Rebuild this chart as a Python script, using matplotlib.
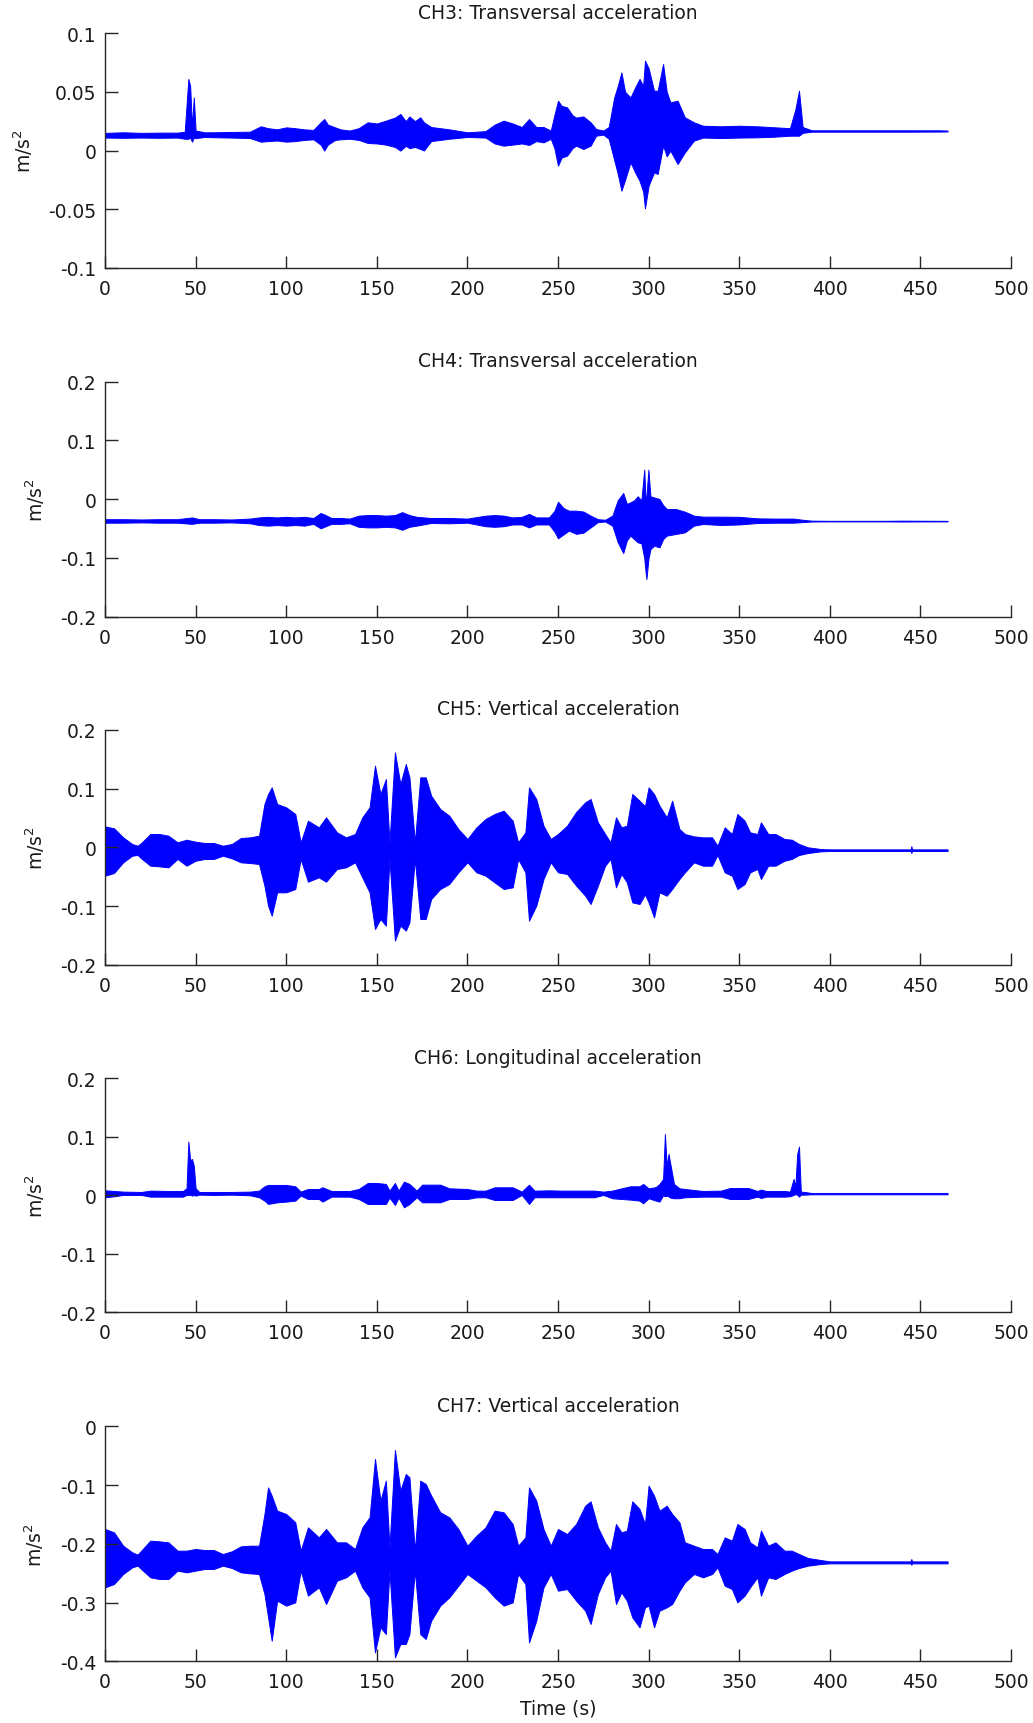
import numpy as np
import matplotlib
matplotlib.use("Agg")
import matplotlib.pyplot as plt

# ---- Envelope of each acceleration record: time (s), upper and lower bound (m/s^2) ----
ch3_t = [0, 10, 20, 30, 40, 44, 46, 47, 48, 49, 50, 55, 60, 70, 80, 86, 90, 95, 100, 105,
         110, 115, 119, 121, 123, 127, 130, 135, 140, 145, 150, 155, 160, 163, 166, 168, 171,
         174, 176, 180, 190, 200, 210, 215, 220, 225, 230, 234, 238, 242, 246, 248, 250, 252,
         255, 258, 260, 264, 268, 271, 275, 278, 281, 283, 285, 287, 290, 293, 295, 297, 298,
         300, 303, 305, 308, 310, 312, 316, 320, 325, 330, 340, 350, 360, 370, 378, 381, 383,
         385, 390, 400, 430, 440, 460, 465]
ch3_hi = [0.0150, 0.0155, 0.0150, 0.0152, 0.0152, 0.0160, 0.0609, 0.0550, 0.0200, 0.0452,
          0.0170, 0.0155, 0.0155, 0.0158, 0.0160, 0.0206, 0.0190, 0.0180, 0.0197, 0.0190,
          0.0180, 0.0175, 0.0240, 0.0268, 0.0220, 0.0197, 0.0180, 0.0170, 0.0190, 0.0240,
          0.0230, 0.0254, 0.0280, 0.0311, 0.0250, 0.0290, 0.0250, 0.0282, 0.0240, 0.0200,
          0.0180, 0.0155, 0.0165, 0.0220, 0.0254, 0.0230, 0.0200, 0.0268, 0.0200, 0.0200,
          0.0170, 0.0300, 0.0424, 0.0380, 0.0367, 0.0300, 0.0280, 0.0290, 0.0240, 0.0183,
          0.0170, 0.0200, 0.0450, 0.0550, 0.0665, 0.0500, 0.0452, 0.0550, 0.0609, 0.0550,
          0.0765, 0.0700, 0.0509, 0.0509, 0.0736, 0.0500, 0.0410, 0.0424, 0.0282, 0.0240,
          0.0211, 0.0206, 0.0211, 0.0206, 0.0197, 0.0190, 0.0350, 0.0509, 0.0200, 0.0172,
          0.0172, 0.0172, 0.0172, 0.0172, 0.0170]
ch3_lo = [0.0110, 0.0108, 0.0110, 0.0108, 0.0110, 0.0100, 0.0100, 0.0110, 0.0075, 0.0110,
          0.0105, 0.0115, 0.0113, 0.0110, 0.0106, 0.0075, 0.0080, 0.0085, 0.0075, 0.0080,
          0.0090, 0.0095, 0.0050, -0.0001, 0.0050, 0.0090, 0.0095, 0.0100, 0.0090, 0.0064,
          0.0060, 0.0050, 0.0030, -0.0001, 0.0040, 0.0020, 0.0030, 0.0013, 0.0000, 0.0080,
          0.0100, 0.0115, 0.0110, 0.0060, 0.0041, 0.0050, 0.0060, 0.0047, 0.0080, 0.0069,
          0.0100, 0.0020, -0.0129, -0.0060, -0.0044, 0.0020, 0.0041, 0.0013, 0.0041, 0.0126,
          0.0135, 0.0100, -0.0080, -0.0200, -0.0342, -0.0250, -0.0101, -0.0200, -0.0257,
          -0.0350, -0.0492, -0.0300, -0.0186, -0.0200, 0.0041, -0.0050, -0.0001, -0.0115,
          -0.0016, 0.0084, 0.0110, 0.0106, 0.0110, 0.0112, 0.0118, 0.0126, 0.0126, 0.0126,
          0.0150, 0.0160, 0.0160, 0.0160, 0.0160, 0.0161, 0.0162]

ch4_t = [0, 10, 20, 30, 40, 48, 52, 60, 70, 80, 85, 90, 95, 100, 105, 110, 115, 119, 121,
         125, 130, 135, 140, 145, 150, 155, 160, 164, 168, 172, 180, 190, 200, 210, 215, 220,
         225, 230, 234, 238, 245, 248, 250, 253, 256, 260, 264, 268, 272, 276, 280, 283, 286,
         288, 290, 292, 294, 296, 297.6, 298.2, 298.8, 299.9, 301, 303, 306, 308, 310, 315,
         320, 325, 330, 340, 350, 360, 370, 380, 385, 390, 400, 430, 440, 460, 465]
ch4_hi = [-0.034, -0.034, -0.0345, -0.034, -0.034, -0.031, -0.034, -0.034, -0.0345, -0.033,
          -0.031, -0.030, -0.031, -0.030, -0.031, -0.030, -0.032, -0.0235, -0.026, -0.032,
          -0.032, -0.033, -0.028, -0.027, -0.027, -0.028, -0.027, -0.022, -0.027, -0.030,
          -0.032, -0.032, -0.033, -0.028, -0.027, -0.028, -0.031, -0.030, -0.025, -0.031,
          -0.031, -0.020, -0.0042, -0.015, -0.0195, -0.0195, -0.021, -0.028, -0.034, -0.035,
          -0.028, -0.0017, 0.0106, -0.008, -0.0053, -0.002, 0.005, -0.002, 0.0503, 0.005,
          0.005, 0.0503, 0.005, 0.003, 0.0003, -0.010, -0.0167, -0.0167, -0.0212, -0.028,
          -0.0297, -0.0297, -0.030, -0.0326, -0.033, -0.033, -0.035, -0.0365, -0.0368,
          -0.0368, -0.0365, -0.0368, -0.0368]
ch4_lo = [-0.040, -0.040, -0.0395, -0.040, -0.040, -0.042, -0.040, -0.040, -0.0395, -0.041,
          -0.044, -0.045, -0.044, -0.045, -0.044, -0.045, -0.042, -0.0496, -0.047, -0.042,
          -0.042, -0.041, -0.047, -0.048, -0.048, -0.047, -0.048, -0.052, -0.047, -0.045,
          -0.0405, -0.041, -0.040, -0.046, -0.047, -0.046, -0.043, -0.043, -0.048, -0.043,
          -0.043, -0.055, -0.0666, -0.060, -0.0535, -0.059, -0.057, -0.048, -0.039, -0.038,
          -0.045, -0.0734, -0.0916, -0.070, -0.062, -0.068, -0.0734, -0.075, -0.100, -0.120,
          -0.1358, -0.1018, -0.085, -0.0791, -0.0819, -0.068, -0.062, -0.0592, -0.0564,
          -0.045, -0.0422, -0.0439, -0.043, -0.0405, -0.040, -0.040, -0.039, -0.038, -0.0378,
          -0.0378, -0.038, -0.0378, -0.0378]

ch5_t = [0, 5, 10, 15, 18, 20, 25, 30, 35, 40, 45, 50, 55, 60, 65, 70, 75, 80, 85, 88, 90,
         92, 95, 100, 105, 108, 112, 118, 122, 128, 133, 138, 142, 146, 149, 152, 155, 157,
         160, 163, 166, 168, 171, 174, 177, 180, 185, 190, 195, 200, 205, 210, 215, 220, 225,
         228, 232, 234, 238, 242, 246, 250, 255, 260, 265, 268, 272, 276, 279, 282, 285, 288,
         291, 295, 298, 300, 303, 306, 310, 313, 317, 320, 325, 330, 335, 338, 342, 346, 349,
         353, 356, 360, 362, 366, 370, 375, 379, 383, 388, 395, 400, 444.6, 445, 445.4, 465]
ch5_hi = [0.0357, 0.0323, 0.017, 0.0057, 0.0028, 0.0074, 0.0227, 0.0227, 0.0198, 0.0085,
          0.013, 0.0096, 0.0074, 0.0074, 0.0028, 0.0057, 0.0159, 0.017, 0.0198, 0.0737,
          0.0907, 0.102, 0.0737, 0.068, 0.0567, 0.0085, 0.0453, 0.034, 0.051, 0.0255, 0.017,
          0.0227, 0.051, 0.068, 0.1388, 0.0907, 0.1161, 0.0085, 0.1615, 0.1076, 0.1416,
          0.119, 0.0085, 0.119, 0.119, 0.0878, 0.0652, 0.0538, 0.0312, 0.0142, 0.034, 0.0482,
          0.0567, 0.0623, 0.0453, 0.0085, 0.0255, 0.102, 0.0822, 0.0368, 0.0142, 0.0227,
          0.0368, 0.060, 0.0765, 0.0822, 0.0425, 0.0227, 0.0085, 0.051, 0.034, 0.0368,
          0.0907, 0.0793, 0.070, 0.102, 0.0907, 0.0708, 0.051, 0.0793, 0.0312, 0.0227,
          0.0187, 0.017, 0.017, 0.0028, 0.034, 0.0227, 0.0567, 0.0453, 0.0255, 0.0227,
          0.0425, 0.0227, 0.0227, 0.0142, 0.013, 0.0057, 0.0, -0.0028, -0.0034, -0.0034,
          0.002, -0.0034, -0.0034]
ch5_lo = [-0.0482, -0.0436, -0.0255, -0.0142, -0.013, -0.0187, -0.0312, -0.0323, -0.034,
          -0.0198, -0.0312, -0.0227, -0.0198, -0.0198, -0.0142, -0.0187, -0.0255, -0.0266,
          -0.0283, -0.0652, -0.0992, -0.1161, -0.0765, -0.0765, -0.0708, -0.0198, -0.0584,
          -0.051, -0.0584, -0.0368, -0.034, -0.0255, -0.051, -0.0765, -0.1388, -0.1218,
          -0.1331, -0.0198, -0.1586, -0.1331, -0.1416, -0.1275, -0.0198, -0.1218, -0.1218,
          -0.0878, -0.0708, -0.0623, -0.0425, -0.0255, -0.0425, -0.0482, -0.0595, -0.0708,
          -0.068, -0.0198, -0.0425, -0.1246, -0.0992, -0.0538, -0.0255, -0.0425, -0.0453,
          -0.065, -0.0822, -0.0963, -0.0652, -0.0312, -0.0198, -0.068, -0.0453, -0.0595,
          -0.0935, -0.0963, -0.080, -0.0935, -0.119, -0.0765, -0.0822, -0.0708, -0.0538,
          -0.0425, -0.0255, -0.0312, -0.0312, -0.013, -0.0425, -0.0482, -0.0708, -0.0623,
          -0.0425, -0.0368, -0.0538, -0.0312, -0.0312, -0.0227, -0.0198, -0.013, -0.0096,
          -0.0068, -0.0062, -0.0062, -0.0096, -0.0062, -0.0062]

ch6_t = [0, 5, 10, 20, 25, 35, 43, 45, 46, 47, 48, 49, 50, 52, 60, 70, 80, 85, 88, 90, 95,
         100, 105, 108, 112, 118, 120, 125, 135, 140, 145, 150, 155, 157, 160, 162, 165, 168,
         172, 175, 180, 185, 190, 200, 205, 210, 215, 220, 225, 230, 234, 237, 245, 252, 260,
         270, 275, 280, 285, 290, 295, 297, 300, 304, 306, 308, 309, 310, 311, 312, 314, 317,
         320, 330, 340, 345, 350, 355, 360, 362, 365, 375, 378, 380, 381, 382, 383, 384, 386,
         390, 400, 465]
ch6_hi = [0.0085, 0.0074, 0.0063, 0.0057, 0.008, 0.0074, 0.0074, 0.012, 0.0917, 0.060,
          0.0621, 0.0507, 0.012, 0.0057, 0.0057, 0.0057, 0.0063, 0.008, 0.0154, 0.0177,
          0.0177, 0.0177, 0.0154, 0.0063, 0.0108, 0.0108, 0.0137, 0.0074, 0.0074, 0.0108,
          0.0211, 0.0211, 0.0194, 0.008, 0.0211, 0.008, 0.0234, 0.0194, 0.008, 0.0182,
          0.0182, 0.0182, 0.0119, 0.0108, 0.008, 0.008, 0.0137, 0.0137, 0.0137, 0.0063,
          0.0182, 0.008, 0.0085, 0.008, 0.008, 0.008, 0.0063, 0.008, 0.0119, 0.0154, 0.0154,
          0.0194, 0.0119, 0.014, 0.0194, 0.0279, 0.1048, 0.050, 0.0707, 0.0536, 0.0194,
          0.012, 0.0108, 0.0074, 0.008, 0.0125, 0.0125, 0.0125, 0.0074, 0.0097, 0.0074,
          0.0074, 0.0063, 0.0279, 0.015, 0.0707, 0.0832, 0.0063, 0.0057, 0.004, 0.004, 0.004]
ch6_lo = [-0.0034, -0.0017, 0.0006, 0.0006, -0.0023, -0.0023, -0.0023, 0.0006, 0.0006, 0.001,
          -0.0006, 0.0006, -0.0006, 0.0011, 0.0006, 0.0011, 0.0, -0.0034, -0.0091, -0.0148,
          -0.012, -0.0108, -0.0091, -0.0006, -0.0063, -0.0063, -0.0108, -0.0023, -0.0023,
          -0.0063, -0.0148, -0.0148, -0.0148, -0.004, -0.0165, -0.004, -0.0205, -0.0148,
          -0.0034, -0.012, -0.012, -0.012, -0.0063, -0.0063, -0.0034, -0.0034, -0.008, -0.008,
          -0.008, 0.0006, -0.0148, -0.0034, -0.0034, -0.0034, -0.0034, -0.0034, 0.0006,
          -0.0051, -0.0063, -0.0074, -0.0091, -0.0137, -0.0051, -0.0091, -0.0108, 0.0,
          -0.0017, -0.0006, -0.002, -0.004, -0.0051, -0.005, -0.0034, -0.0023, -0.0023,
          -0.0063, -0.0063, -0.0063, -0.0023, -0.0046, -0.0023, -0.0023, -0.0017, 0.0006,
          0.002, 0.001, -0.0023, 0.001, 0.0011, 0.0017, 0.0017, 0.0017]

ch7_t = ch5_t
ch7_hi = [-0.1748, -0.1805, -0.2032, -0.2145, -0.2185, -0.2117, -0.1947, -0.1958, -0.1975,
          -0.2117, -0.2117, -0.2088, -0.2106, -0.2106, -0.2174, -0.2128, -0.2043, -0.2032,
          -0.2032, -0.1493, -0.1039, -0.118, -0.1436, -0.1493, -0.1634, -0.2117, -0.172,
          -0.189, -0.1748, -0.1975, -0.1975, -0.2088, -0.172, -0.1549, -0.0556, -0.1266,
          -0.0925, -0.206, -0.0403, -0.1095, -0.0812, -0.0868, -0.2117, -0.0925, -0.0982,
          -0.118, -0.1464, -0.1549, -0.1748, -0.2032, -0.1862, -0.172, -0.1436, -0.1464,
          -0.1663, -0.2032, -0.189, -0.1039, -0.1266, -0.1748, -0.2032, -0.1748, -0.1833,
          -0.1663, -0.1351, -0.1277, -0.172, -0.1975, -0.2117, -0.1663, -0.1805, -0.1776,
          -0.1277, -0.1408, -0.1663, -0.101, -0.118, -0.1436, -0.1351, -0.1493, -0.1634,
          -0.1975, -0.2032, -0.2088, -0.2088, -0.2174, -0.189, -0.1947, -0.1663, -0.1748,
          -0.1975, -0.206, -0.1776, -0.2032, -0.1975, -0.2117, -0.2117, -0.2174, -0.2242,
          -0.2276, -0.2299, -0.2299, -0.2259, -0.2299, -0.2299]
ch7_lo = [-0.2741, -0.2684, -0.2514, -0.2401, -0.2372, -0.2429, -0.2571, -0.2599, -0.2599,
          -0.2457, -0.2486, -0.2457, -0.2429, -0.2429, -0.2372, -0.2412, -0.2486, -0.2503,
          -0.2514, -0.2855, -0.3252, -0.3649, -0.2968, -0.3053, -0.2997, -0.2457, -0.2883,
          -0.2741, -0.3025, -0.2628, -0.2571, -0.2457, -0.2741, -0.2911, -0.3848, -0.3422,
          -0.3536, -0.2457, -0.3933, -0.3706, -0.3706, -0.3536, -0.2457, -0.3536, -0.3621,
          -0.3309, -0.3053, -0.2911, -0.2713, -0.2514, -0.2628, -0.2741, -0.2911, -0.3053,
          -0.2997, -0.2514, -0.2684, -0.3678, -0.3309, -0.2741, -0.2514, -0.2798, -0.277,
          -0.2968, -0.3138, -0.3365, -0.2855, -0.2571, -0.2457, -0.3025, -0.2826, -0.2968,
          -0.3252, -0.3422, -0.3082, -0.3053, -0.3422, -0.3138, -0.3082, -0.3025, -0.2798,
          -0.2656, -0.2514, -0.2571, -0.2514, -0.2401, -0.2713, -0.277, -0.2997, -0.2883,
          -0.2741, -0.2571, -0.2883, -0.2571, -0.2599, -0.2514, -0.2457, -0.2412, -0.2372,
          -0.2344, -0.2333, -0.2333, -0.2355, -0.2333, -0.2333]

titles = ["CH3: Transversal acceleration", "CH4: Transversal acceleration",
          "CH5: Vertical acceleration", "CH6: Longitudinal acceleration",
          "CH7: Vertical acceleration"]
ylims = [(-0.1, 0.1), (-0.2, 0.2), (-0.2, 0.2), (-0.2, 0.2), (-0.4, 0.0)]
yticks = [[-0.1, -0.05, 0, 0.05, 0.1],
          [-0.2, -0.1, 0, 0.1, 0.2],
          [-0.2, -0.1, 0, 0.1, 0.2],
          [-0.2, -0.1, 0, 0.1, 0.2],
          [-0.4, -0.3, -0.2, -0.1, 0]]
ytick_labels = [["-0.1", "-0.05", "0", "0.05", "0.1"],
                ["-0.2", "-0.1", "0", "0.1", "0.2"],
                ["-0.2", "-0.1", "0", "0.1", "0.2"],
                ["-0.2", "-0.1", "0", "0.1", "0.2"],
                ["-0.4", "-0.3", "-0.2", "-0.1", "0"]]
xticks = list(range(0, 501, 50))

series = [(ch3_t, ch3_hi, ch3_lo), (ch4_t, ch4_hi, ch4_lo), (ch5_t, ch5_hi, ch5_lo),
          (ch6_t, ch6_hi, ch6_lo), (ch7_t, ch7_hi, ch7_lo)]

plt.rcParams["font.family"] = ["DejaVu Sans"]
W, H = 1033, 1724
fig = plt.figure(figsize=(W / 100, H / 100), dpi=100)

# axes boxes in pixels: (top, bottom)
boxes = [(34, 269), (382.7, 617.7), (730.7, 966), (1079.3, 1313.3), (1427.3, 1662.3)]
left_px, right_px = 105, 1011
axis_col = "#262626"
txt_col = "#1a1a1a"
fs = 13.5

for i, ((top, bot), (t, hi, lo)) in enumerate(zip(boxes, series)):
    ax = fig.add_axes([left_px / W, 1 - bot / H, (right_px - left_px) / W, (bot - top) / H])
    ax.fill_between(t, lo, hi, color="#0000ff", linewidth=0.7, edgecolor="#0000ff")
    ax.set_xlim(0, 500)
    ax.set_ylim(*ylims[i])
    ax.set_xticks(xticks)
    ax.set_xticklabels([str(v) for v in xticks])
    ax.set_yticks(yticks[i])
    ax.set_yticklabels(ytick_labels[i])
    for side in ("top", "right"):
        ax.spines[side].set_visible(False)
    for side in ("left", "bottom"):
        ax.spines[side].set_color(axis_col)
        ax.spines[side].set_linewidth(1.0)
    ax.tick_params(direction="in", length=9, width=1.0, color=axis_col,
                   labelsize=fs, labelcolor=txt_col)
    ax.tick_params(axis="x", pad=8)
    ax.tick_params(axis="y", pad=6)
    ax.set_title(titles[i], fontsize=fs, color=txt_col, pad=11)
    ax.set_ylabel("m/s$^2$", fontsize=fs, color=txt_col, labelpad=10)
    if i == 4:
        ax.set_xlabel("Time (s)", fontsize=fs, color=txt_col, labelpad=5)

fig.savefig("out.png", dpi=100)
